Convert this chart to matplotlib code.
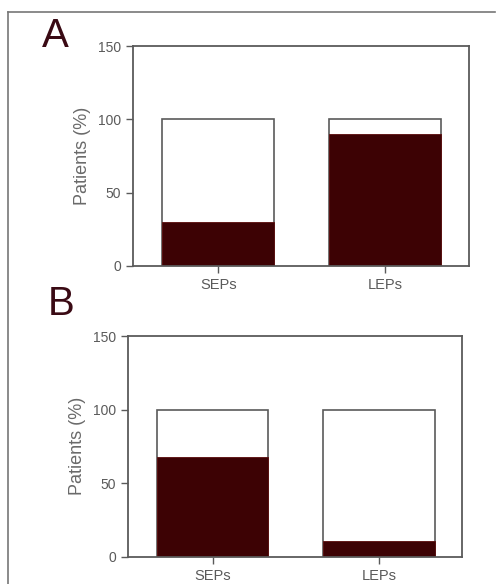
import matplotlib.pyplot as plt
from matplotlib.lines import Line2D

plt.rcParams["font.family"] = ["Liberation Sans", "DejaVu Sans"]

# values (percent of patients)
groups = ["SEPs", "LEPs"]
panel_a = [30, 90]
panel_b = [68, 11]
total = [100, 100]
yticks = [0, 50, 100, 150]

dark = "#3d0204"
gray = "#5a5a5a"

fig = plt.figure(figsize=(4.98, 5.84), dpi=100)

# outer frame (only left and top edges are visible)
fig.add_artist(Line2D([8 / 498, 8 / 498], [0, 1 - 12 / 584], transform=fig.transFigure,
                      color="#777777", lw=1.2))
fig.add_artist(Line2D([8 / 498, 495 / 498], [1 - 12 / 584, 1 - 12 / 584],
                      transform=fig.transFigure, color="#777777", lw=1.2))


def panel(rect, values, letter, letter_xy):
    ax = fig.add_axes(rect)
    x = range(len(groups))
    ax.bar(x, total, width=0.67, color="white", edgecolor=gray, linewidth=1.2)
    ax.bar(x, values, width=0.67, color=dark, edgecolor="#5a0a0a", linewidth=0.6)
    ax.set_xlim(-0.51, 1.5)
    ax.set_ylim(0, 150)
    ax.set_yticks(yticks)
    ax.set_xticks(list(x))
    ax.set_xticklabels(groups, fontsize=10.5)
    ax.set_ylabel("Patients (%)", fontsize=13, color="#6a6a6a", labelpad=5)
    ax.tick_params(colors=gray, labelsize=10, length=5, width=1)
    ax.tick_params(axis="x", labelsize=10.5)
    for s in ax.spines.values():
        s.set_color(gray)
        s.set_linewidth(1.3)
    fig.text(letter_xy[0], letter_xy[1], letter, fontsize=29, color="#3a0a14",
             ha="left", va="center")
    return ax


panel([133 / 498, 1 - 266 / 584, 336 / 498, 220 / 584], panel_a, "A",
      (42 / 498, 1 - 36 / 584))
panel([128 / 498, 1 - 556.7 / 584, 334 / 498, 220.7 / 584], panel_b, "B",
      (48 / 498, 1 - 304 / 584))

fig.savefig("out.png", dpi=100)
